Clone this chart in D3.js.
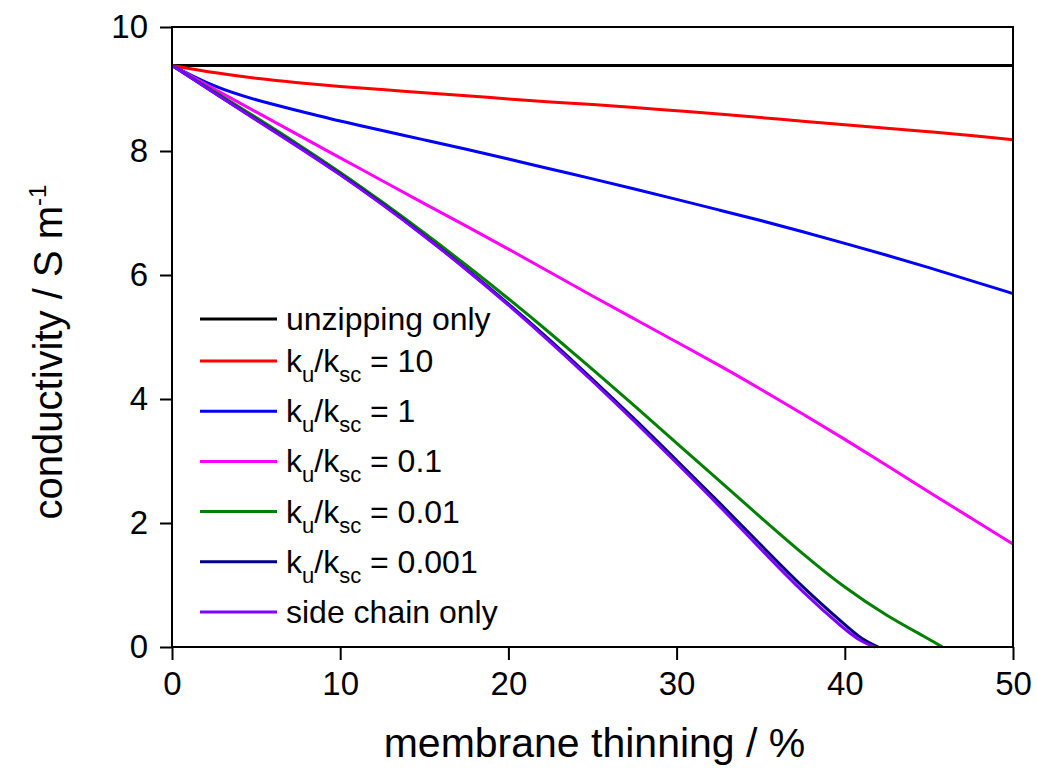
<!DOCTYPE html>
<html>
<head>
<meta charset="utf-8">
<script src="https://cdn.jsdelivr.net/npm/d3@7/dist/d3.min.js"></script>
<style>
  body { margin: 0; background: #fff; }
  svg { font-family: "Liberation Sans", Arial, sans-serif; }
</style>
</head>
<body>
<svg id="draw-here"></svg>
<script>
// thinning (%) grid used by the full-length curves
const thinning = [0, 2.5, 5, 7.5, 10, 12.5, 15, 17.5, 20, 22.5, 25, 27.5, 30, 32.5, 35, 37.5, 40, 42.5, 45, 47.5, 50];
const thinningK001 = [0, 2.5, 5, 7.5, 10, 12.5, 15, 17.5, 20, 22.5, 25, 27.5, 30, 32.5, 35, 37.5, 40, 42.5, 45, 45.8];
const thinningK0001 = [0, 2.5, 5, 7.5, 10, 12.5, 15, 17.5, 20, 22.5, 25, 27.5, 30, 32.5, 35, 37.5, 40, 41, 42];
const thinningSide = [0, 2.5, 5, 7.5, 10, 12.5, 15, 17.5, 20, 22.5, 25, 27.5, 30, 32.5, 35, 37.5, 40, 41, 41.8];

// conductivity (S/m)
const unzipping = [9.38, 9.38, 9.38, 9.38, 9.38, 9.38, 9.38, 9.38, 9.38, 9.38, 9.38, 9.38, 9.38, 9.38, 9.38, 9.38, 9.38, 9.38, 9.38, 9.38, 9.38];
const k10 = [9.38, 9.26, 9.17, 9.10, 9.04, 8.99, 8.94, 8.89, 8.84, 8.79, 8.75, 8.70, 8.65, 8.60, 8.54, 8.48, 8.42, 8.37, 8.31, 8.25, 8.18];
const k1 = [9.38, 9.03, 8.82, 8.65, 8.48, 8.33, 8.18, 8.03, 7.87, 7.71, 7.55, 7.39, 7.22, 7.05, 6.88, 6.70, 6.51, 6.32, 6.12, 5.91, 5.70];
const k01 = [9.38, 9.00, 8.63, 8.26, 7.89, 7.52, 7.15, 6.79, 6.42, 6.04, 5.66, 5.29, 4.92, 4.55, 4.16, 3.76, 3.35, 2.93, 2.50, 2.08, 1.66];
const k001 = [9.38, 8.96, 8.54, 8.11, 7.66, 7.18, 6.68, 6.16, 5.62, 5.06, 4.48, 3.89, 3.29, 2.69, 2.09, 1.50, 0.95, 0.50, 0.13, 0];
const k0001 = [9.38, 8.94, 8.51, 8.08, 7.63, 7.15, 6.64, 6.10, 5.54, 4.95, 4.32, 3.68, 3.01, 2.34, 1.65, 0.96, 0.36, 0.12, 0];
const sideChain = [9.38, 8.94, 8.50, 8.07, 7.62, 7.14, 6.63, 6.09, 5.52, 4.92, 4.29, 3.64, 2.97, 2.29, 1.58, 0.88, 0.28, 0.08, 0];

const xTicks = [0, 10, 20, 30, 40, 50];
const yTicks = [0, 2, 4, 6, 8, 10];

const series = [
  {name: 'unzipping only', x: thinning, y: unzipping, color: '#000000'},
  {name: '10', x: thinning, y: k10, color: '#ff0000'},
  {name: '1', x: thinning, y: k1, color: '#0000ff'},
  {name: '0.1', x: thinning, y: k01, color: '#ff00ff'},
  {name: '0.01', x: thinningK001, y: k001, color: '#008000'},
  {name: '0.001', x: thinningK0001, y: k0001, color: '#000080'},
  {name: 'side chain only', x: thinningSide, y: sideChain, color: '#8000ff'}
];

let width = 1037, height = 770;
let margin = {top: 27, right: 24, bottom: 123, left: 172};

let svg = d3.select('#draw-here')
  .attr('width', width)
  .attr('height', height);

let x = d3.scaleLinear().domain([0, 50]).range([margin.left, width - margin.right]);
let y = d3.scaleLinear().domain([0, 10]).range([height - margin.bottom, margin.top]);

// curves
let line = d3.line()
  .x(function(d) { return x(d[0]); })
  .y(function(d) { return y(d[1]); })
  .curve(d3.curveBasis);

svg.append('g')
  .selectAll('path')
  .data(series)
  .enter().append('path')
  .attr('fill', 'none')
  .attr('stroke', function(d) { return d.color; })
  .attr('stroke-width', 3)
  .attr('d', function(d) { return line(d.x.map(function(v, i) { return [v, d.y[i]]; })); });

// frame
svg.append('rect')
  .attr('x', x(0)).attr('y', y(10))
  .attr('width', x(50) - x(0)).attr('height', y(0) - y(10))
  .attr('fill', 'none').attr('stroke', '#000').attr('stroke-width', 2);

// axes, major + minor ticks
let xAxis = svg.append('g').attr('transform', 'translate(0,' + y(0) + ')');
xAxis.call(d3.axisBottom(x).tickValues(d3.range(5, 50, 10)).tickSize(6).tickFormat(''));
xAxis.call(d3.axisBottom(x).tickValues(xTicks).tickSize(13).tickPadding(12).tickFormat(d3.format('d')));

let yAxis = svg.append('g').attr('transform', 'translate(' + x(0) + ',0)');
yAxis.call(d3.axisLeft(y).tickValues(d3.range(1, 10, 2)).tickSize(6).tickFormat(''));
yAxis.call(d3.axisLeft(y).tickValues(yTicks).tickSize(12).tickPadding(12).tickFormat(d3.format('d')));

svg.selectAll('.domain').remove();
svg.selectAll('.tick line').attr('stroke', '#000').attr('stroke-width', 2);
svg.selectAll('.tick text')
  .attr('font-size', 33)
  .attr('font-family', '"Liberation Sans", Arial, sans-serif')
  .attr('fill', '#000');

// axis titles
svg.append('text')
  .attr('x', (x(0) + x(50)) / 2 + 2)
  .attr('y', 757)
  .attr('text-anchor', 'middle')
  .attr('font-size', 41)
  .text('membrane thinning / %');

let yt = svg.append('text')
  .attr('transform', 'translate(62,' + ((y(0) + y(10)) / 2 + 15) + ') rotate(-90)')
  .attr('text-anchor', 'middle')
  .attr('font-size', 40);
yt.append('tspan').text('conductivity / S m');
yt.append('tspan').attr('font-size', 24).attr('dy', -16).text('-1');

// legend
let legend = svg.append('g');
series.forEach(function(s, i) {
  let ly = i === 0 ? 319 : 361 + (i - 1) * 50.2;
  legend.append('line')
    .attr('x1', 200).attr('x2', 277)
    .attr('y1', ly).attr('y2', ly)
    .attr('stroke', s.color).attr('stroke-width', 3);
  let t = legend.append('text')
    .attr('x', 286).attr('y', ly + 11)
    .attr('font-size', 32);
  if (i === 0 || i === series.length - 1) {
    t.text(s.name);
  } else {
    t.append('tspan').text('k');
    t.append('tspan').attr('font-size', 22).attr('dy', 10).text('u');
    t.append('tspan').attr('dy', -10).text('/k');
    t.append('tspan').attr('font-size', 22).attr('dy', 10).text('sc');
    t.append('tspan').attr('dy', -10).text(' = ' + s.name);
  }
});
</script>
</body>
</html>
